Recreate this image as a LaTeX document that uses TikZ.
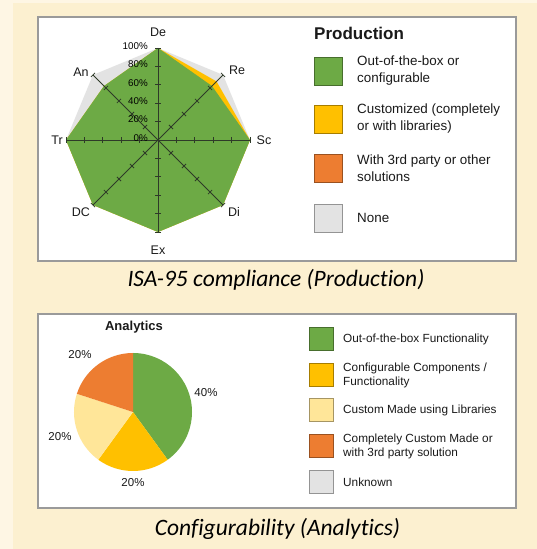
\documentclass[tikz,border=0pt]{standalone}
\usepackage{fontspec}
\setmainfont{Liberation Sans}
\newfontfamily\capfont[Ligatures=NoCommon]{Carlito}
\definecolor{cream}{HTML}{FCF0D0}
\definecolor{creamlight}{HTML}{FEF6E4}
\definecolor{boxline}{HTML}{9A9A9A}
\definecolor{cgreen}{HTML}{6DAA45}
\definecolor{cyellow}{HTML}{FFC000}
\definecolor{corange}{HTML}{ED7D31}
\definecolor{clight}{HTML}{FFE699}
\definecolor{cgray}{HTML}{E3E3E3}
\definecolor{axisc}{HTML}{2E3A28}
\definecolor{txt}{HTML}{1A1A1A}
\tikzset{
  panel/.style={draw=boxline, line width=1.2pt, fill=white},
  axisline/.style={draw=axisc, line width=0.8pt},
  lgbox/.style={draw=#1!65!black, fill=#1, line width=0.8pt, minimum size=28pt, inner sep=0pt},
  lgboxs/.style={draw=#1!65!black, fill=#1, line width=0.8pt, minimum size=23.5pt, inner sep=0pt},
  lgtext/.style={anchor=west, align=left, text=txt, font=\fontsize{13.4}{17}\selectfont, inner sep=0pt},
  lgtexts/.style={anchor=west, align=left, text=txt, font=\fontsize{11.8}{14}\selectfont, inner sep=0pt},
  axlabel/.style={text=txt, font=\fontsize{12.5}{14}\selectfont, inner sep=0pt},
  pctlabel/.style={anchor=east, text=black, font=\fontsize{9.8}{11}\selectfont, inner sep=0pt},
  pielabel/.style={text=txt, font=\fontsize{11.5}{13}\selectfont, inner sep=0pt},
  caption/.style={text=black, font=\capfont\itshape\fontsize{23.5}{26}\selectfont, inner sep=0pt}
}
\begin{document}
\begin{tikzpicture}[x=1pt,y=1pt]
\useasboundingbox (0,0) rectangle (537,549);
\fill[cream] (0,0) rectangle (537,549);
\fill[creamlight] (0,0) rectangle (13,549);
\fill[creamlight] (0,546) rectangle (537,549);
% top panel
\draw[panel] (38,288) rectangle (516,532);
\begin{scope}[shift={(158,409)}]
  \def\R{92}
  \fill[cgray] (90:\R) -- (45:\R) -- (0:\R) -- (-45:\R) -- (-90:\R) -- (-135:\R) -- (180:\R) -- (135:\R) -- cycle;
  \fill[cyellow] (90:\R) -- (45:{0.9*\R}) -- (0:\R) -- (-45:\R) -- (-90:\R) -- (-135:\R) -- (180:\R) -- (135:{0.83*\R}) -- cycle;
  \fill[cgreen] (90:\R) -- (45:{0.83*\R}) -- (0:\R) -- (-45:\R) -- (-90:\R) -- (-135:\R) -- (180:\R) -- (135:{0.83*\R}) -- cycle;
  \foreach \a in {0,45,...,315} {
    \draw[axisline] (0,0) -- (\a:\R);
    \foreach \k in {1,...,5} {
      \draw[axisline] (\a:{0.2*\k*\R}) ++({\a+90}:3) -- ++({\a-90}:6);
    }
  }
  \node[axlabel] (De) at (0,108) {De};
  \node[axlabel] (Re) at (79,70) {Re};
  \node[axlabel] (Sc) at (106,0) {Sc};
  \node[axlabel] (Di) at (76,-72) {Di};
  \node[axlabel] (Ex) at (0,-110) {Ex};
  \node[axlabel] (DC) at (-77,-72) {DC};
  \node[axlabel] (Tr) at (-101,0) {Tr};
  \node[axlabel] (An) at (-77,68) {An};
  \foreach \k/\t in {0/0\%,1/20\%,2/40\%,3/60\%,4/80\%,5/100\%} {
    \node[pctlabel] (p\k) at (-10,{18.4*\k+2}) {\t};
  }
\end{scope}
\node[anchor=west, text=txt, font=\bfseries\fontsize{17}{19}\selectfont, inner sep=0pt] (prod) at (314,516) {Production};
\node[lgbox=cgreen] (l1) at (328,478) {};
\node[lgbox=cyellow] (l2) at (328,430) {};
\node[lgbox=corange] (l3) at (328,380.5) {};
\node[lgbox=cgray] (l4) at (328,331) {};
\node[lgtext] (t1) at (357,478) {Out-of-the-box or\\configurable};
\node[lgtext] (t2) at (357,430) {Customized (completely\\or with libraries)};
\node[lgtext] (t3) at (357,380.5) {With 3rd party or other\\solutions};
\node[lgtext] (t4) at (357,331) {None};
\node[caption] (cap1) at (276,269) {ISA-95 compliance (Production)};
% bottom panel
\draw[panel] (38,41) rectangle (516,235);
\begin{scope}[shift={(133,137)}]
  \def\r{59}
  \fill[cgreen] (0,0) -- (90:\r) arc[start angle=90, end angle=-54, radius=\r] -- cycle;
  \fill[cyellow] (0,0) -- (-54:\r) arc[start angle=-54, end angle=-126, radius=\r] -- cycle;
  \fill[clight] (0,0) -- (-126:\r) arc[start angle=-126, end angle=-198, radius=\r] -- cycle;
  \fill[corange] (0,0) -- (-198:\r) arc[start angle=-198, end angle=-270, radius=\r] -- cycle;
\end{scope}
\node[text=txt, font=\bfseries\fontsize{13}{15}\selectfont, inner sep=0pt] (ana) at (134,222) {Analytics};
\node[pielabel] (pg) at (206,156) {40\%};
\node[pielabel] (py) at (133,66) {20\%};
\node[pielabel] (pl) at (60,112) {20\%};
\node[pielabel] (po) at (80,194) {20\%};
\node[lgboxs=cgreen] (s1) at (321.5,210) {};
\node[lgboxs=cyellow] (s2) at (321.5,174) {};
\node[lgboxs=clight] (s3) at (321.5,139) {};
\node[lgboxs=corange] (s4) at (321.5,103) {};
\node[lgboxs=cgray] (s5) at (321.5,67) {};
\node[lgtexts] (u1) at (343,210) {Out-of-the-box Functionality};
\node[lgtexts] (u2) at (343,174) {Configurable Components /\\Functionality};
\node[lgtexts] (u3) at (343,139) {Custom Made using Libraries};
\node[lgtexts] (u4) at (343,103) {Completely Custom Made or\\with 3rd party solution};
\node[lgtexts] (u5) at (343,67) {Unknown};
\node[caption] (cap2) at (277.5,20) {Configurability (Analytics)};
\end{tikzpicture}
\end{document}
